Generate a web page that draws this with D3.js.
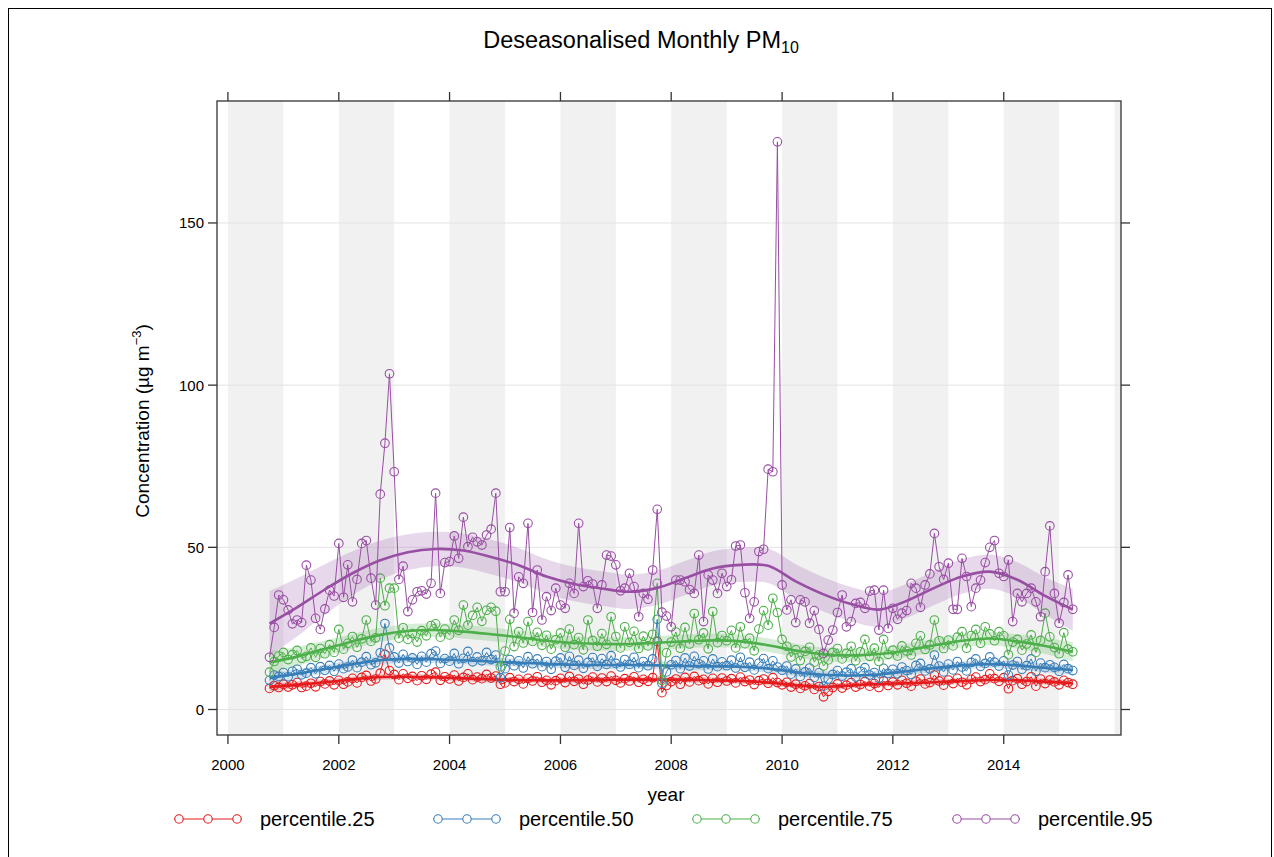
<!DOCTYPE html>
<html><head><meta charset="utf-8">
<script src="https://cdn.jsdelivr.net/npm/d3@7"></script>
<style>
body{margin:0;background:#fff}
svg{display:block}
text{font-family:"Liberation Sans", Arial, sans-serif; fill:#000}
</style>
</head><body><svg id="c" width="1274" height="857"></svg>
<script>
// ---------- data ----------
const seriesNames = ["percentile.25","percentile.50","percentile.75","percentile.95"];
const seriesColors = ["#E41A1C","#377EB8","#4DAF4A","#984EA3"];
const yTickValues = [0,50,100,150];
const xTickYears = [2000,2002,2004,2006,2008,2010,2012,2014];
const firstMonth = new Date(2000,9,1);   // Oct 2000, monthly to Apr 2015

const p25 = [6.5,7.4,6.8,
 7.8,6.9,7.6,8.3,6.8,7.2,8.1,7.0,8.6,7.9,8.8,7.6,
 9.0,7.8,8.5,9.6,8.2,9.9,10.5,8.8,9.4,11.2,17.0,12.0,
 10.8,9.2,11.0,9.6,10.2,8.9,10.4,9.3,10.9,11.5,9.0,10.1,
 9.4,10.6,8.8,9.9,11.0,9.2,10.0,9.5,10.8,9.7,10.3,7.8,
 8.2,9.8,8.6,9.3,7.9,9.6,8.8,10.1,8.4,9.0,7.6,8.9,
 9.6,8.3,10.2,8.7,9.4,7.8,9.1,10.0,8.5,9.7,8.6,10.3,
 9.0,8.2,9.5,8.8,10.1,8.4,9.3,8.7,9.8,21.0,5.2,7.4,
 8.6,9.4,7.8,9.9,8.5,10.2,8.9,9.3,7.9,9.6,8.4,9.7,
 8.8,9.5,8.2,10.0,8.6,9.1,7.7,8.9,9.4,8.1,9.8,8.3,
 7.6,8.4,6.9,7.8,6.5,7.3,8.0,6.2,7.1,3.9,5.6,6.8,
 7.9,6.6,7.5,8.3,6.9,7.7,8.6,7.2,8.0,6.8,8.8,7.4,
 8.5,7.6,9.0,8.1,7.2,8.7,9.4,7.9,8.3,10.6,8.8,7.5,
 9.1,8.0,9.6,8.4,7.6,9.3,10.0,8.6,9.2,11.0,9.5,8.7,
 9.8,6.4,8.9,9.5,7.8,8.6,10.1,7.2,9.4,8.0,9.1,8.5,
 7.6,9.0,8.3,7.8];
const p50 = [9.0,10.6,10.2,
 11.4,10.1,11.8,12.4,10.7,11.2,12.9,11.0,13.2,12.1,13.6,11.8,
 14.0,12.6,13.1,15.2,12.9,14.6,16.3,13.8,14.4,17.5,26.5,19.0,
 16.2,14.3,17.0,14.8,15.9,13.9,16.4,14.6,17.2,18.0,14.2,15.7,
 14.9,17.3,14.1,15.8,17.9,14.7,16.2,15.0,17.6,15.4,16.8,9.8,
 12.6,15.4,13.5,15.0,12.8,16.3,14.1,15.6,13.2,14.8,12.4,14.9,
 15.9,13.0,16.4,13.6,15.2,12.7,14.5,16.0,13.3,15.7,13.9,16.6,
 14.2,13.1,15.4,13.9,16.1,12.9,14.8,13.5,15.6,27.8,8.1,11.6,
 13.8,15.1,12.6,15.9,13.4,16.4,14.1,15.0,12.5,15.6,13.2,14.7,
 13.5,15.2,12.8,16.1,13.0,14.6,12.2,14.3,15.7,12.6,15.0,13.1,
 12.1,13.4,10.9,12.5,10.2,11.6,12.8,9.9,11.3,7.2,9.4,10.8,
 12.0,10.3,11.5,12.6,10.0,11.8,12.9,10.6,11.4,9.6,12.7,11.1,
 12.4,11.0,13.1,12.0,10.8,13.6,14.2,11.9,12.5,16.8,13.4,11.6,
 14.0,12.2,14.8,13.1,11.9,14.5,15.6,13.3,14.2,16.2,14.6,13.4,
 15.0,10.6,13.7,14.8,12.4,13.5,15.6,11.8,14.3,12.9,13.8,13.0,
 11.8,13.9,12.6,12.0];
const p75 = [11.5,14.8,16.5,
 17.6,15.4,16.9,18.2,15.8,16.4,19.0,16.1,18.8,17.2,20.0,17.6,
 24.7,18.6,20.4,22.5,19.2,21.8,27.6,21.0,22.1,40.5,32.0,37.4,
 37.4,22.0,25.2,21.6,23.4,20.8,24.3,22.7,25.9,26.4,22.3,24.8,
 23.0,27.6,24.4,32.2,26.0,29.0,31.5,27.2,30.6,31.5,30.3,13.2,
 18.0,27.8,19.4,24.0,20.5,27.1,21.0,23.8,19.8,22.9,18.6,21.5,
 23.6,19.2,24.8,20.0,22.2,18.4,27.6,21.3,19.5,23.4,20.1,28.6,
 22.5,19.0,25.5,20.7,24.1,18.8,22.6,19.6,23.2,38.9,9.0,17.5,
 20.8,23.9,18.9,25.3,20.2,29.6,21.5,23.6,18.7,30.2,20.6,22.8,
 21.2,24.4,19.0,25.5,20.3,22.0,18.1,24.8,30.5,26.0,34.3,29.9,
 21.6,19.5,16.2,18.4,15.1,17.9,19.2,14.6,16.8,13.4,15.3,17.6,
 18.8,15.6,17.3,19.5,15.0,17.8,21.6,16.4,18.9,14.8,21.6,17.0,
 18.3,16.5,19.6,18.0,16.8,20.4,22.7,18.5,19.9,27.6,21.2,18.8,
 21.4,19.6,22.3,24.0,18.9,22.8,24.7,20.4,25.5,23.3,21.2,24.0,
 22.7,16.9,20.8,21.6,18.3,20.2,23.0,17.6,21.3,29.7,22.4,19.1,
 17.2,23.7,18.6,17.8];
const p95 = [16.1,25.3,35.3,
 33.8,30.7,26.4,27.6,26.8,44.5,39.9,28.1,24.7,31.0,36.8,35.0,
 51.2,34.6,44.6,33.2,40.1,51.2,52.1,40.5,32.2,66.4,82.1,103.5,
 73.3,40.1,44.2,30.2,33.8,36.3,36.6,35.6,38.9,66.7,35.8,45.3,
 45.6,53.5,46.6,59.3,50.2,53.1,51.7,50.7,53.8,55.6,66.7,36.3,
 36.3,56.1,29.7,40.9,38.9,57.4,29.9,43.0,27.6,34.8,30.5,37.4,
 32.2,31.2,38.9,35.8,57.4,37.9,39.7,38.7,31.2,38.4,47.6,47.3,
 44.6,36.6,37.4,42.0,37.9,28.6,35.8,34.0,43.0,61.7,30.0,28.8,
 25.5,39.9,39.9,39.4,37.0,35.8,47.6,27.1,41.5,39.9,35.8,42.0,
 37.9,40.0,50.4,50.7,36.0,28.1,33.2,48.7,49.4,74.1,73.3,175.0,
 38.4,30.7,33.8,26.8,33.8,33.2,26.6,30.5,24.7,17.3,21.4,24.5,
 29.9,35.3,25.5,27.1,32.7,33.0,31.2,36.5,36.8,24.5,36.8,25.0,
 31.2,27.8,29.7,30.5,38.9,37.4,31.5,38.4,41.8,54.3,44.0,40.1,
 45.1,30.9,30.9,46.6,41.0,31.7,37.4,39.9,45.3,50.0,52.1,42.0,
 41.0,46.1,27.1,35.8,33.2,35.8,37.4,33.2,28.6,42.5,56.6,35.8,
 26.6,33.0,41.5,30.9];

// smooth trend (every 6 months from Oct 2000) and half-width of its interval
const smooth25 = [7.0,7.6,8.4,9.3,10.0,10.1,9.9,9.6,9.3,9.1,9.0,9.0,9.1,9.2,9.2,9.2,9.0,8.8,8.3,7.5,7.0,7.4,7.9,8.1,8.4,8.8,9.1,9.0,8.6,8.1];
const smooth50 = [9.7,11.0,12.5,14.0,15.2,15.6,15.5,15.2,14.8,14.4,14.1,13.8,13.7,13.7,13.6,13.4,13.3,13.2,12.6,11.5,10.7,10.5,10.8,11.8,12.8,13.6,14.0,13.6,12.8,12.2];
const smooth75 = [14.5,16.3,18.7,21.0,23.0,24.2,24.5,24.0,23.2,22.3,21.2,20.5,20.2,20.2,20.6,21.0,21.3,21.0,19.8,18.2,17.0,16.7,17.1,18.2,19.8,21.2,21.9,21.0,19.6,17.8];
const smooth95 = [26.5,31.5,37.0,42.0,46.0,48.5,49.5,49.0,47.0,44.5,41.0,38.7,37.3,36.3,37.5,40.5,43.5,44.6,44.3,39.5,35.5,32.5,30.8,33.5,37.5,41.0,42.5,40.0,35.0,30.8];
const ci25 = [1.4,1.1,1.0,0.9,0.9,0.9,0.9,0.9,0.9,0.9,0.9,0.9,0.9,0.9,0.9,0.9,0.9,0.9,0.9,0.9,0.9,0.9,0.9,0.9,0.9,0.9,0.9,0.9,1.0,1.1];
const ci50 = [1.8,1.5,1.3,1.2,1.2,1.2,1.2,1.2,1.2,1.2,1.2,1.2,1.2,1.2,1.2,1.2,1.2,1.2,1.2,1.2,1.2,1.2,1.2,1.2,1.2,1.2,1.2,1.2,1.3,1.5];
const ci75 = [3.5,3.0,2.6,2.3,2.2,2.1,2.1,2.1,2.1,2.1,2.1,2.1,2.1,2.1,2.1,2.1,2.1,2.1,2.1,2.1,2.1,2.1,2.1,2.1,2.1,2.1,2.1,2.2,2.5,3.0];
const ci95 = [10.0,9.0,7.8,6.8,6.0,5.5,5.3,5.3,5.3,5.3,5.3,5.3,5.3,5.3,5.3,5.3,5.3,5.3,5.3,5.3,5.3,5.3,5.3,5.3,5.3,5.3,5.3,5.4,5.8,6.5];

const values = [p25,p50,p75,p95];
const smooths = [smooth25,smooth50,smooth75,smooth95];
const cis = [ci25,ci50,ci75,ci95];

// ---------- drawing ----------
const svg = d3.select("#c");
const panel = {l:217, r:1121, t:101, b:735};
const x = d3.scaleTime().domain([new Date(1999,9,21), new Date(2016,1,13)]).range([panel.l, panel.r]);
const y = d3.scaleLinear().domain([-7.86, 187.6]).range([panel.b, panel.t]);
const monthDates = values[0].map((_,i)=> d3.timeMonth.offset(firstMonth, i));
const smoothDates = smooth25.map((_,k)=> d3.timeMonth.offset(firstMonth, 6*k));

// outer frame
svg.append("rect").attr("x",8.5).attr("y",8.5).attr("width",1263).attr("height",870)
  .attr("fill","none").attr("stroke","#000").attr("stroke-width",1);

svg.append("clipPath").attr("id","pc").append("rect")
  .attr("x",panel.l).attr("y",panel.t).attr("width",panel.r-panel.l).attr("height",panel.b-panel.t);
const g = svg.append("g").attr("clip-path","url(#pc)");

// alternating year shading
for (let yr = 2000; yr <= 2016; yr += 2) {
  const x0 = x(new Date(yr,0,1)), x1 = x(new Date(yr+1,0,1));
  g.append("rect").attr("x",x0).attr("y",panel.t).attr("width",x1-x0).attr("height",panel.b-panel.t)
    .attr("fill","#f1f1f1");
}
// horizontal grid
yTickValues.forEach(v=>{
  g.append("line").attr("x1",panel.l).attr("x2",panel.r).attr("y1",y(v)).attr("y2",y(v))
    .attr("stroke","#e3e3e3").attr("stroke-width",1);
});

const curve = d3.curveCatmullRom.alpha(0.5);
values.forEach((vals,k)=>{
  const col = seriesColors[k];
  const sm = smooths[k], ci = cis[k];
  const area = d3.area().curve(curve).x((d,i)=>x(smoothDates[i])).y0((d,i)=>y(sm[i]-ci[i])).y1((d,i)=>y(sm[i]+ci[i]));
  g.append("path").attr("d",area(sm)).attr("fill",col).attr("fill-opacity",0.22).attr("stroke","none");
  const line = d3.line().x((d,i)=>x(monthDates[i])).y(d=>y(d));
  g.append("path").attr("d",line(vals)).attr("fill","none").attr("stroke",col).attr("stroke-width",1);
  g.selectAll(null).data(vals).enter().append("circle")
    .attr("cx",(d,i)=>x(monthDates[i])).attr("cy",d=>y(d)).attr("r",4.3)
    .attr("fill","none").attr("stroke",col).attr("stroke-width",1.1);
  const sline = d3.line().curve(curve).x((d,i)=>x(smoothDates[i])).y(d=>y(d));
  g.append("path").attr("d",sline(sm)).attr("fill","none").attr("stroke",col).attr("stroke-width",2.6);
});

// panel border
svg.append("rect").attr("x",panel.l).attr("y",panel.t).attr("width",panel.r-panel.l).attr("height",panel.b-panel.t)
  .attr("fill","none").attr("stroke","#333").attr("stroke-width",1.3);

// ticks
const tk = svg.append("g").attr("stroke","#333").attr("stroke-width",1.3);
yTickValues.forEach(v=>{
  tk.append("line").attr("x1",panel.l-9).attr("x2",panel.l).attr("y1",y(v)).attr("y2",y(v));
  tk.append("line").attr("x1",panel.r).attr("x2",panel.r+9).attr("y1",y(v)).attr("y2",y(v));
  svg.append("text").attr("x",panel.l-13).attr("y",y(v)).attr("dy","0.36em")
    .attr("text-anchor","end").attr("font-size",15).text(v);
});
xTickYears.forEach(yr=>{
  const xx = x(new Date(yr,0,1));
  tk.append("line").attr("x1",xx).attr("x2",xx).attr("y1",panel.b).attr("y2",panel.b+9);
  tk.append("line").attr("x1",xx).attr("x2",xx).attr("y1",panel.t-9).attr("y2",panel.t);
  svg.append("text").attr("x",xx).attr("y",770).attr("text-anchor","middle").attr("font-size",15).text(yr);
});

// title
const title = svg.append("text").attr("x",641).attr("y",48).attr("text-anchor","middle").attr("font-size",23.5);
title.append("tspan").text("Deseasonalised Monthly PM");
title.append("tspan").attr("font-size",16).attr("dy",5).text("10");

// axis titles
svg.append("text").attr("x",(panel.l+panel.r)/2-3).attr("y",801).attr("text-anchor","middle").attr("font-size",19).text("year");
const yl = svg.append("text").attr("transform","translate(149,421) rotate(-90)").attr("text-anchor","middle").attr("font-size",19);
yl.append("tspan").text("Concentration (µg m");
yl.append("tspan").attr("font-size",13).attr("dy",-8).text("−3");
yl.append("tspan").attr("dy",8).text(")");

// legend
const legX = [260,519,778,1038];
seriesNames.forEach((nm,k)=>{
  const tx = legX[k], ly = 819, col = seriesColors[k];
  svg.append("line").attr("x1",tx-86).attr("x2",tx-18).attr("y1",ly).attr("y2",ly).attr("stroke",col).attr("stroke-width",1.2);
  [-81,-52,-23].forEach(dx=>{
    svg.append("circle").attr("cx",tx+dx).attr("cy",ly).attr("r",4.2).attr("fill","#fff").attr("stroke",col).attr("stroke-width",1.1);
  });
  svg.append("text").attr("x",tx).attr("y",826).attr("font-size",20).text(nm);
});
</script>
</body></html>
